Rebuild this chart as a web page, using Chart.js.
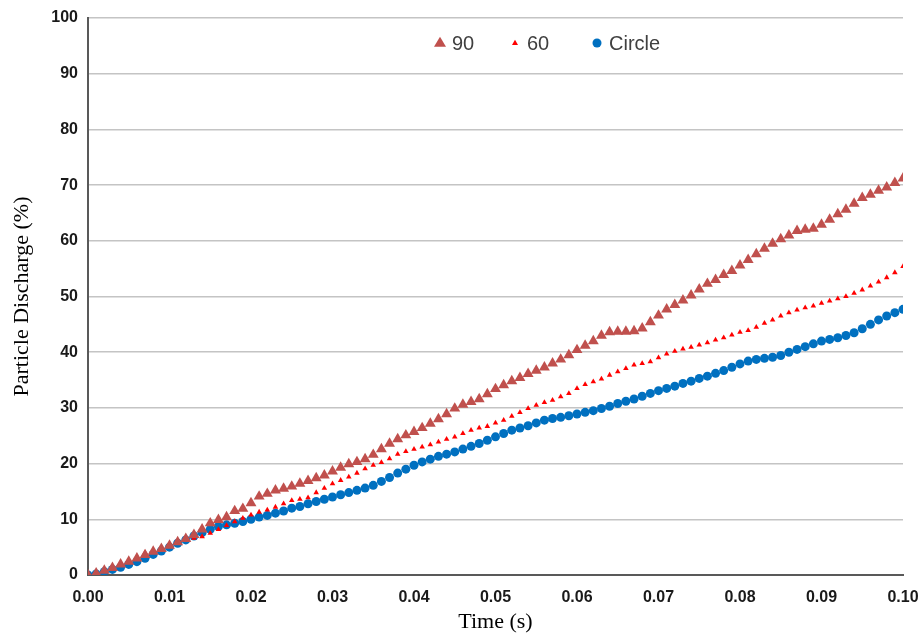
<!DOCTYPE html>
<html>
<head>
<meta charset="utf-8">
<script src="https://cdn.jsdelivr.net/npm/chart.js@4.4.0/dist/chart.umd.min.js"></script>
<style>
  html, body { margin: 0; padding: 0; background: #fff; }
  #wrap { width: 921px; height: 636px; }
</style>
</head>
<body>
<div id="wrap"><canvas id="discharge-chart"></canvas></div>
<script>
const times = [
  0.000, 0.001, 0.002, 0.003, 0.004, 0.005, 0.006, 0.007, 0.008, 0.009,
  0.010, 0.011, 0.012, 0.013, 0.014, 0.015, 0.016, 0.017, 0.018, 0.019,
  0.020, 0.021, 0.022, 0.023, 0.024, 0.025, 0.026, 0.027, 0.028, 0.029,
  0.030, 0.031, 0.032, 0.033, 0.034, 0.035, 0.036, 0.037, 0.038, 0.039,
  0.040, 0.041, 0.042, 0.043, 0.044, 0.045, 0.046, 0.047, 0.048, 0.049,
  0.050, 0.051, 0.052, 0.053, 0.054, 0.055, 0.056, 0.057, 0.058, 0.059,
  0.060, 0.061, 0.062, 0.063, 0.064, 0.065, 0.066, 0.067, 0.068, 0.069,
  0.070, 0.071, 0.072, 0.073, 0.074, 0.075, 0.076, 0.077, 0.078, 0.079,
  0.080, 0.081, 0.082, 0.083, 0.084, 0.085, 0.086, 0.087, 0.088, 0.089,
  0.090, 0.091, 0.092, 0.093, 0.094, 0.095, 0.096, 0.097, 0.098, 0.099,
  0.100
];

const series90 = [
  0, 0.3, 0.8, 1.3, 1.9, 2.4, 3.0, 3.6, 4.2, 4.7,
  5.3, 5.9, 6.5, 7.2, 8.2, 9.3, 9.9, 10.4, 11.5, 11.9,
  12.9, 14.1, 14.6, 15.2, 15.5, 15.9, 16.4, 16.9, 17.4, 17.9,
  18.6, 19.3, 19.9, 20.3, 20.8, 21.6, 22.6, 23.6, 24.4, 25.1,
  25.7, 26.4, 27.2, 28.0, 28.9, 29.9, 30.6, 31.1, 31.6, 32.5,
  33.4, 34.1, 34.8, 35.4, 36.1, 36.7, 37.3, 38.0, 38.7, 39.5,
  40.4, 41.2, 42.0, 43.0, 43.6, 43.7, 43.7, 43.8, 44.3, 45.4,
  46.6, 47.7, 48.5, 49.3, 50.2, 51.3, 52.3, 53.0, 53.9, 54.6,
  55.6, 56.6, 57.6, 58.6, 59.5, 60.3, 61.0, 61.8, 62.0, 62.2,
  62.9, 63.8, 64.8, 65.6, 66.7, 67.7, 68.3, 69.0, 69.6, 70.4,
  71.2
];

const series60 = [
  0, 0.3, 0.8, 1.4, 2.1, 2.7, 3.3, 4.0, 4.3, 4.7,
  5.2, 5.7, 6.2, 6.6, 6.9, 7.5, 8.2, 8.9, 9.6, 10.2,
  10.8, 11.3, 11.7, 12.2, 12.8, 13.4, 13.6, 13.9, 14.8, 15.6,
  16.4, 17.0, 17.6, 18.3, 19.1, 19.7, 20.2, 20.9, 21.7, 22.2,
  22.6, 23.0, 23.4, 23.9, 24.4, 24.8, 25.4, 26.0, 26.4, 26.7,
  27.3, 27.8, 28.5, 29.2, 29.9, 30.5, 31.0, 31.4, 32.0, 32.6,
  33.5, 34.2, 34.7, 35.2, 35.9, 36.5, 37.1, 37.7, 38.0, 38.3,
  39.0, 39.7, 40.2, 40.6, 40.9, 41.3, 41.7, 42.2, 42.6, 43.1,
  43.6, 43.9, 44.5, 45.2, 45.8, 46.5, 47.1, 47.6, 48.0, 48.3,
  48.8, 49.2, 49.6, 50.0, 50.6, 51.2, 51.9, 52.6, 53.4, 54.3,
  55.4
];

const seriesCircle = [
  0, 0.2, 0.6, 1.0, 1.4, 1.9, 2.4, 3.0, 3.7, 4.3,
  5.0, 5.7, 6.3, 7.0, 7.6, 8.2, 8.7, 9.0, 9.3, 9.6,
  10.0, 10.4, 10.7, 11.1, 11.5, 12.0, 12.3, 12.8, 13.2, 13.6,
  14.0, 14.4, 14.8, 15.2, 15.6, 16.1, 16.8, 17.5, 18.3, 19.0,
  19.7, 20.3, 20.8, 21.3, 21.7, 22.1, 22.6, 23.1, 23.6, 24.2,
  24.8, 25.4, 26.0, 26.4, 26.8, 27.3, 27.8, 28.1, 28.3, 28.6,
  28.9, 29.2, 29.5, 29.9, 30.3, 30.8, 31.2, 31.6, 32.1, 32.6,
  33.1, 33.5, 33.9, 34.4, 34.8, 35.3, 35.7, 36.2, 36.7, 37.3,
  37.9, 38.4, 38.7, 38.9, 39.1, 39.4, 40.0, 40.5, 41.0, 41.5,
  42.0, 42.3, 42.6, 43.0, 43.5, 44.2, 45.0, 45.8, 46.5, 47.1,
  47.7
];

const seriesNames = ['90', '60', 'Circle'];

const toPoints = (vals) => vals.map((v, i) => ({ x: times[i], y: v }));

// legend drawn inside the plot, like the original
const insideLegend = {
  id: 'insideLegend',
  afterDraw(chart) {
    const ctx = chart.ctx;
    const markerX = [440, 515, 597];
    const y = 43;
    ctx.save();
    ctx.font = '20px "Liberation Sans", Arial, sans-serif';
    ctx.textBaseline = 'middle';
    ctx.textAlign = 'left';
    chart.data.datasets.forEach((ds, i) => {
      const mx = markerX[i];
      const r = ds.pointRadius;
      ctx.fillStyle = ds.pointBackgroundColor;
      ctx.beginPath();
      if (ds.pointStyle === 'triangle') {
        ctx.moveTo(mx, y - r);
        ctx.lineTo(mx + r * 0.95, y + r * 0.6);
        ctx.lineTo(mx - r * 0.95, y + r * 0.6);
        ctx.closePath();
      } else {
        ctx.arc(mx, y, r, 0, Math.PI * 2);
      }
      ctx.fill();
      ctx.fillStyle = '#404040';
      ctx.fillText(ds.label, mx + 12, y + 1);
    });
    ctx.restore();
  }
};

const ctx = document.getElementById('discharge-chart').getContext('2d');
new Chart(ctx, {
  type: 'scatter',
  data: {
    datasets: [
      {
        label: seriesNames[0],
        data: toPoints(series90),
        pointStyle: 'triangle',
        pointRadius: 6.3,
        pointBackgroundColor: '#C0504D',
        pointBorderColor: '#C0504D',
        pointBorderWidth: 0,
        showLine: false
      },
      {
        label: seriesNames[1],
        data: toPoints(series60),
        pointStyle: 'triangle',
        pointRadius: 3.2,
        pointBackgroundColor: '#FF0000',
        pointBorderColor: '#FF0000',
        pointBorderWidth: 0,
        showLine: false
      },
      {
        label: seriesNames[2],
        data: toPoints(seriesCircle),
        pointStyle: 'circle',
        pointRadius: 4.5,
        pointBackgroundColor: '#0070C0',
        pointBorderColor: '#0070C0',
        pointBorderWidth: 0,
        showLine: false
      }
    ]
  },
  options: {
    responsive: true,
    maintainAspectRatio: false,
    animation: false,
    layout: { padding: { left: 0, right: 18, top: 18, bottom: 0 } },
    plugins: {
      legend: { display: false },
      tooltip: { enabled: false }
    },
    scales: {
      x: {
        type: 'linear',
        min: 0,
        max: 0.1,
        ticks: {
          stepSize: 0.01,
          padding: 5,
          color: '#1a1a1a',
          font: { family: '"Liberation Sans", Arial, sans-serif', size: 16, weight: 'bold' },
          callback: (v) => v.toFixed(2),
          maxRotation: 0
        },
        grid: { display: false },
        border: { display: true, color: '#595959', width: 2 },
        title: {
          display: true,
          text: 'Time (s)',
          color: '#000',
          font: { family: '"Liberation Serif", "Times New Roman", serif', size: 22 },
          padding: { top: 0, bottom: 1 }
        },
        afterFit(scale) {
          scale.height = 61;
          scale.paddingLeft = 0;
          scale.paddingRight = 0;
        }
      },
      y: {
        min: 0,
        max: 100,
        ticks: {
          stepSize: 10,
          padding: 10,
          color: '#1a1a1a',
          font: { family: '"Liberation Sans", Arial, sans-serif', size: 16, weight: 'bold' }
        },
        grid: { color: '#C4C4C4', lineWidth: 1.5, drawTicks: false },
        border: { display: true, color: '#595959', width: 2 },
        title: {
          display: true,
          text: 'Particle Discharge (%)',
          color: '#000',
          font: { family: '"Liberation Serif", "Times New Roman", serif', size: 22 },
          padding: { top: 9, bottom: 0 }
        },
        afterFit(scale) {
          scale.width = 88;
          scale.paddingTop = 0;
          scale.paddingBottom = 0;
        }
      }
    }
  },
  plugins: [insideLegend]
});
</script>
</body>
</html>
